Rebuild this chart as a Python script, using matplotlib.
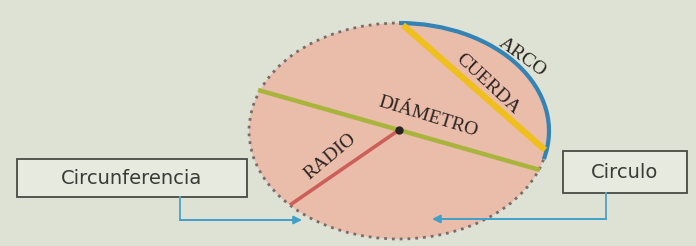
import matplotlib.pyplot as plt
from matplotlib.patches import Ellipse, Arc, Rectangle

# diagram geometry, in picture pixels (x right, y down)
circle_center = (399, 131)
circle_size = (300, 216)
arc_angles = (-90, 11)

diametro_x = [258, 540]
diametro_y = [90, 170]
radio_x = [399, 290]
radio_y = [130, 205]
cuerda_x = [403, 545]
cuerda_y = [25, 150]

labels = ['ARCO', 'CUERDA', 'DIÁMETRO', 'RADIO']
label_x = [522, 488, 428, 330]
label_y = [57, 84, 117, 157]
label_rot = [-36, -43, -17, 40]

box_labels = ['Circunferencia', 'Circulo']
box_left = [17, 563]
box_top = [159, 151]
box_w = [230, 124]
box_h = [38, 42]

# elbow connectors: box bottom -> under the circle
conn_left_x = [180, 180, 302]
conn_left_y = [197, 220, 220]
conn_right_x = [606, 606, 432]
conn_right_y = [193, 219, 219]

fig = plt.figure(figsize=(6.96, 2.46), dpi=100)
fig.patch.set_facecolor('#dde2d4')
ax = fig.add_axes([0, 0, 1, 1])
ax.set_facecolor('#dde2d4')
ax.set_xlim(0, 696)
ax.set_ylim(246, 0)
ax.axis('off')

ax.add_patch(Ellipse(circle_center, *circle_size, facecolor='#eabcaa',
                     edgecolor='#786c6a', linestyle=(0, (1, 1.8)), linewidth=2))

ax.plot(diametro_x, diametro_y, color='#a9b43c', linewidth=3.2, solid_capstyle='butt')
ax.plot(cuerda_x, cuerda_y, color='#efbf1e', linewidth=4.5, solid_capstyle='butt')
ax.plot(radio_x, radio_y, color='#cc5f58', linewidth=2.6, solid_capstyle='butt')
arc = Arc(circle_center, *circle_size, theta1=arc_angles[0], theta2=arc_angles[1],
          color='#3383b4', linewidth=3)
arc.set_capstyle('butt')
ax.add_patch(arc)
ax.plot(radio_x[0], radio_y[0], 'o', color='#2a2222', markersize=5)

for txt, x, y, r in zip(labels, label_x, label_y, label_rot):
    ax.text(x, y, txt, rotation=r, ha='center', va='center', fontsize=14,
            family='Liberation Serif', color='#2c2420', rotation_mode='anchor')

for txt, x0, y0, w, h in zip(box_labels, box_left, box_top, box_w, box_h):
    ax.add_patch(Rectangle((x0, y0), w, h, facecolor='#e6eadf',
                           edgecolor='#4a4a44', linewidth=1.3))
    ax.text(x0 + w / 2, y0 + h / 2, txt, ha='center', va='center', fontsize=14,
            family='DejaVu Sans', color='#3a3a36')

for xs, ys in [(conn_left_x, conn_left_y), (conn_right_x, conn_right_y)]:
    ax.plot(xs[:2], ys[:2], color='#5aa6c4', linewidth=1.4)
    ax.annotate('', xy=(xs[2], ys[2]), xytext=(xs[1], ys[1]),
                arrowprops=dict(arrowstyle='-|>', color='#3fa0cc', lw=1.4,
                                mutation_scale=12, shrinkA=0, shrinkB=0))

fig.savefig('out.png', dpi=100, facecolor=fig.get_facecolor())
